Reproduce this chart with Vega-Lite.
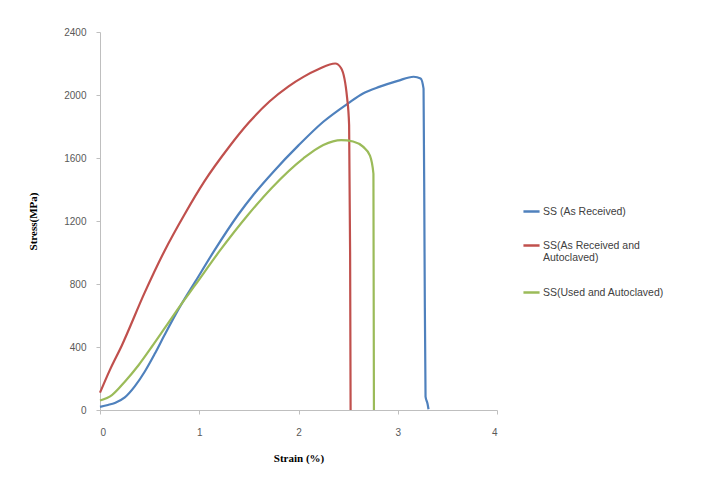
{
  "$schema": "https://vega.github.io/schema/vega-lite/v6.json",
  "width": 397,
  "height": 378,
  "autosize": {"type": "none"},
  "padding": {"left": 100, "top": 32, "right": 231, "bottom": 89},
  "background": "white",
  "data": {"values": [
    {"s": "SS (As Received)", "i": 0, "x": 0, "y": 20},
    {"s": "SS (As Received)", "i": 1, "x": 0.08, "y": 32},
    {"s": "SS (As Received)", "i": 2, "x": 0.15, "y": 45},
    {"s": "SS (As Received)", "i": 3, "x": 0.25, "y": 80},
    {"s": "SS (As Received)", "i": 4, "x": 0.35, "y": 150},
    {"s": "SS (As Received)", "i": 5, "x": 0.45, "y": 243},
    {"s": "SS (As Received)", "i": 6, "x": 0.55, "y": 355},
    {"s": "SS (As Received)", "i": 7, "x": 0.65, "y": 476},
    {"s": "SS (As Received)", "i": 8, "x": 0.8, "y": 650},
    {"s": "SS (As Received)", "i": 9, "x": 0.96, "y": 815},
    {"s": "SS (As Received)", "i": 10, "x": 1.15, "y": 1010},
    {"s": "SS (As Received)", "i": 11, "x": 1.39, "y": 1238},
    {"s": "SS (As Received)", "i": 12, "x": 1.55, "y": 1370},
    {"s": "SS (As Received)", "i": 13, "x": 1.75, "y": 1515},
    {"s": "SS (As Received)", "i": 14, "x": 2.0, "y": 1680},
    {"s": "SS (As Received)", "i": 15, "x": 2.25, "y": 1830},
    {"s": "SS (As Received)", "i": 16, "x": 2.5, "y": 1947},
    {"s": "SS (As Received)", "i": 17, "x": 2.65, "y": 2010},
    {"s": "SS (As Received)", "i": 18, "x": 2.82, "y": 2053},
    {"s": "SS (As Received)", "i": 19, "x": 3.0, "y": 2090},
    {"s": "SS (As Received)", "i": 20, "x": 3.16, "y": 2116},
    {"s": "SS (As Received)", "i": 21, "x": 3.23, "y": 2105},
    {"s": "SS (As Received)", "i": 22, "x": 3.26, "y": 2040},
    {"s": "SS (As Received)", "i": 23, "x": 3.27, "y": 1000},
    {"s": "SS (As Received)", "i": 24, "x": 3.28, "y": 85},
    {"s": "SS (As Received)", "i": 25, "x": 3.30, "y": 40},
    {"s": "SS (As Received)", "i": 26, "x": 3.31, "y": 5},
    {"s": "SS(As Received and Autoclaved)", "i": 0, "x": 0, "y": 110},
    {"s": "SS(As Received and Autoclaved)", "i": 1, "x": 0.1, "y": 255},
    {"s": "SS(As Received and Autoclaved)", "i": 2, "x": 0.22, "y": 410},
    {"s": "SS(As Received and Autoclaved)", "i": 3, "x": 0.45, "y": 745},
    {"s": "SS(As Received and Autoclaved)", "i": 4, "x": 0.65, "y": 1010},
    {"s": "SS(As Received and Autoclaved)", "i": 5, "x": 0.85, "y": 1240},
    {"s": "SS(As Received and Autoclaved)", "i": 6, "x": 1.05, "y": 1450},
    {"s": "SS(As Received and Autoclaved)", "i": 7, "x": 1.3, "y": 1670},
    {"s": "SS(As Received and Autoclaved)", "i": 8, "x": 1.5, "y": 1825},
    {"s": "SS(As Received and Autoclaved)", "i": 9, "x": 1.71, "y": 1960},
    {"s": "SS(As Received and Autoclaved)", "i": 10, "x": 1.9, "y": 2055},
    {"s": "SS(As Received and Autoclaved)", "i": 11, "x": 2.05, "y": 2115},
    {"s": "SS(As Received and Autoclaved)", "i": 12, "x": 2.2, "y": 2163},
    {"s": "SS(As Received and Autoclaved)", "i": 13, "x": 2.37, "y": 2200},
    {"s": "SS(As Received and Autoclaved)", "i": 14, "x": 2.43, "y": 2170},
    {"s": "SS(As Received and Autoclaved)", "i": 15, "x": 2.49, "y": 1980},
    {"s": "SS(As Received and Autoclaved)", "i": 16, "x": 2.51, "y": 1810},
    {"s": "SS(As Received and Autoclaved)", "i": 17, "x": 2.52, "y": 1000},
    {"s": "SS(As Received and Autoclaved)", "i": 18, "x": 2.525, "y": 0},
    {"s": "SS(Used and Autoclaved)", "i": 0, "x": 0, "y": 60},
    {"s": "SS(Used and Autoclaved)", "i": 1, "x": 0.12, "y": 95},
    {"s": "SS(Used and Autoclaved)", "i": 2, "x": 0.25, "y": 180},
    {"s": "SS(Used and Autoclaved)", "i": 3, "x": 0.39, "y": 286},
    {"s": "SS(Used and Autoclaved)", "i": 4, "x": 0.52, "y": 400},
    {"s": "SS(Used and Autoclaved)", "i": 5, "x": 0.65, "y": 518},
    {"s": "SS(Used and Autoclaved)", "i": 6, "x": 0.8, "y": 655},
    {"s": "SS(Used and Autoclaved)", "i": 7, "x": 0.96, "y": 794},
    {"s": "SS(Used and Autoclaved)", "i": 8, "x": 1.2, "y": 1005},
    {"s": "SS(Used and Autoclaved)", "i": 9, "x": 1.49, "y": 1238},
    {"s": "SS(Used and Autoclaved)", "i": 10, "x": 1.73, "y": 1410},
    {"s": "SS(Used and Autoclaved)", "i": 11, "x": 2.05, "y": 1598},
    {"s": "SS(Used and Autoclaved)", "i": 12, "x": 2.25, "y": 1683},
    {"s": "SS(Used and Autoclaved)", "i": 13, "x": 2.43, "y": 1714},
    {"s": "SS(Used and Autoclaved)", "i": 14, "x": 2.55, "y": 1705},
    {"s": "SS(Used and Autoclaved)", "i": 15, "x": 2.65, "y": 1672},
    {"s": "SS(Used and Autoclaved)", "i": 16, "x": 2.72, "y": 1615},
    {"s": "SS(Used and Autoclaved)", "i": 17, "x": 2.755, "y": 1500},
    {"s": "SS(Used and Autoclaved)", "i": 18, "x": 2.76, "y": 0}
  ]},
  "mark": {"type": "line", "strokeWidth": 2.2, "interpolate": "monotone"},
  "encoding": {
    "x": {"field": "x", "type": "quantitative",
      "scale": {"domain": [0, 4], "nice": false},
      "axis": {"values": [0, 1, 2, 3, 4], "format": "d", "grid": false, "title": "Strain (%)",
        "domainColor": "#bfbfbf", "tickColor": "#bfbfbf", "tickSize": 4,
        "labelFont": "Liberation Sans", "labelFontSize": 10, "labelColor": "#595959", "labelPadding": 13,
        "titleFont": "Liberation Serif", "titleFontSize": 11, "titleFontWeight": "bold", "titleColor": "#000000", "titlePadding": 15}},
    "y": {"field": "y", "type": "quantitative",
      "scale": {"domain": [0, 2400], "nice": false},
      "axis": {"values": [0, 400, 800, 1200, 1600, 2000, 2400], "format": "d", "grid": false, "title": "Stress(MPa)",
        "domainColor": "#bfbfbf", "tickColor": "#bfbfbf", "tickSize": 4,
        "labelFont": "Liberation Sans", "labelFontSize": 10, "labelColor": "#595959", "labelPadding": 10,
        "titleFont": "Liberation Serif", "titleFontSize": 11, "titleFontWeight": "bold", "titleColor": "#000000", "titlePadding": 25}},
    "color": {"field": "s", "type": "nominal",
      "scale": {"domain": ["SS (As Received)", "SS(As Received and Autoclaved)", "SS(Used and Autoclaved)"],
        "range": ["#4F81BD", "#C0504D", "#9BBB59"]},
      "legend": {"title": null, "orient": "none", "legendX": 422, "legendY": 170,
        "symbolType": "stroke", "symbolStrokeWidth": 2.5, "symbolSize": 260,
        "labelFont": "Liberation Sans", "labelFontSize": 10.5, "labelColor": "#404040",
        "rowPadding": 19, "labelOffset": 2,
        "labelExpr": "datum.label == 'SS(As Received and Autoclaved)' ? ['SS(As Received and', 'Autoclaved)'] : datum.label"}},
    "order": {"field": "i", "type": "quantitative"}
  },
  "config": {"view": {"stroke": null}}
}
